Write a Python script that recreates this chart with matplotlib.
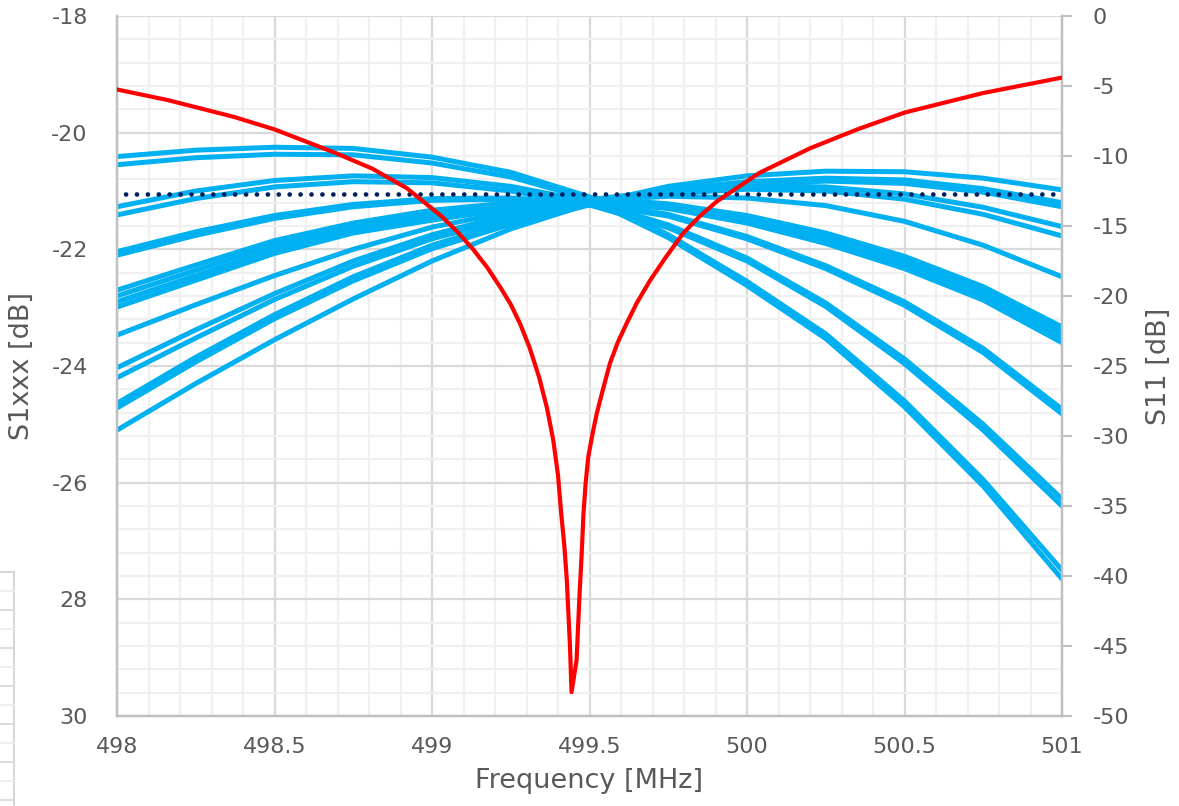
import matplotlib
matplotlib.use("Agg")
import matplotlib.pyplot as plt
from matplotlib.ticker import MultipleLocator, FixedLocator, FixedFormatter
from matplotlib.lines import Line2D

plt.rcParams['font.family'] = ['DejaVu Sans']
plt.rcParams['axes.unicode_minus'] = False

# frequency grid of the S1xxx traces [MHz]
freq = [498.0, 498.25, 498.5, 498.75, 499.0, 499.25, 499.5,
        499.75, 500.0, 500.25, 500.5, 500.75, 501.0]

# S1xxx traces [dB]
s1_traces = [
    [-20.41, -20.30, -20.25, -20.27, -20.42, -20.68, -21.10, -21.75, -22.55, -23.45, -24.60, -25.95, -27.50],
    [-20.55, -20.43, -20.37, -20.38, -20.52, -20.76, -21.14, -21.80, -22.62, -23.53, -24.70, -26.06, -27.65],
    [-21.27, -21.00, -20.82, -20.74, -20.77, -20.92, -21.18, -21.58, -22.15, -22.92, -23.88, -25.00, -26.28],
    [-21.41, -21.13, -20.93, -20.84, -20.86, -21.00, -21.24, -21.63, -22.20, -22.98, -23.96, -25.10, -26.40],
    [-22.04, -21.70, -21.42, -21.23, -21.13, -21.12, -21.20, -21.40, -21.78, -22.28, -22.90, -23.70, -24.74],
    [-22.10, -21.76, -21.47, -21.27, -21.16, -21.14, -21.22, -21.43, -21.82, -22.33, -22.96, -23.77, -24.82],
    [-22.70, -22.27, -21.85, -21.55, -21.33, -21.20, -21.12, -21.22, -21.42, -21.72, -22.12, -22.64, -23.33],
    [-22.80, -22.36, -21.92, -21.61, -21.38, -21.23, -21.14, -21.25, -21.47, -21.78, -22.20, -22.72, -23.42],
    [-22.90, -22.45, -22.00, -21.67, -21.44, -21.27, -21.16, -21.27, -21.51, -21.84, -22.27, -22.80, -23.51],
    [-22.99, -22.53, -22.07, -21.72, -21.50, -21.30, -21.18, -21.30, -21.55, -21.90, -22.33, -22.87, -23.60],
    [-23.47, -22.95, -22.45, -22.00, -21.62, -21.35, -21.17, -21.09, -21.12, -21.25, -21.52, -21.93, -22.47],
    [-24.03, -23.38, -22.76, -22.20, -21.75, -21.40, -21.15, -20.99, -20.91, -20.93, -21.05, -21.28, -21.61],
    [-24.20, -23.52, -22.86, -22.29, -21.82, -21.46, -21.20, -21.04, -20.97, -21.00, -21.14, -21.40, -21.77],
    [-24.64, -23.85, -23.12, -22.47, -21.93, -21.52, -21.20, -20.98, -20.84, -20.78, -20.81, -20.96, -21.20],
    [-24.72, -23.93, -23.19, -22.54, -21.99, -21.57, -21.24, -21.02, -20.89, -20.83, -20.87, -21.02, -21.27],
    [-25.10, -24.30, -23.55, -22.85, -22.20, -21.65, -21.22, -20.92, -20.74, -20.66, -20.67, -20.78, -20.98],
]

# reference level (dotted)
ref_freq = [498.0, 501.0]
ref_level = [-21.05, -21.05]

# S11 [dB]
s11_freq = [498.0, 498.16, 498.37, 498.5, 498.69, 498.81, 498.92, 499.03, 499.08, 499.13,
            499.175, 499.216, 499.25, 499.28, 499.31, 499.34, 499.365, 499.385, 499.40,
            499.41, 499.42, 499.428, 499.438, 499.443, 499.459, 499.468, 499.475, 499.481,
            499.488, 499.496, 499.51, 499.523, 499.54, 499.565, 499.59, 499.618, 499.65,
            499.692, 499.74, 499.798, 499.85, 499.904, 500.04, 500.2, 500.35, 500.5,
            500.75, 501.0]
s11_db = [-5.25, -6.0, -7.2, -8.1, -9.75, -10.9, -12.3, -14.3, -15.4, -16.65,
          -17.95, -19.35, -20.6, -22.0, -23.7, -25.8, -28.0, -30.3, -32.8,
          -35.5, -37.8, -40.3, -45.0, -48.3, -46.0, -41.5, -38.5, -35.5,
          -33.3, -31.5, -29.8, -28.4, -26.9, -24.8, -23.3, -21.95, -20.5,
          -18.9, -17.3, -15.5, -14.3, -13.25, -11.2, -9.45, -8.1, -6.9,
          -5.5, -4.4]

x_ticks = [498, 498.5, 499, 499.5, 500, 500.5, 501]
x_labels = ["498", "498.5", "499", "499.5", "500", "500.5", "501"]
left_ticks = [-18, -20, -22, -24, -26, -28, -30]
left_labels = ["-18", "-20", "-22", "-24", "-26", "28", "30"]
right_ticks = [0, -5, -10, -15, -20, -25, -30, -35, -40, -45, -50]

txt = "#595959"
axis_gray = "#BFBFBF"

fig = plt.figure(figsize=(11.79, 8.06), dpi=100)
ax = fig.add_axes([117 / 1179, 90 / 806, 945 / 1179, 700 / 806])
ax2 = ax.twinx()

for tr in s1_traces:
    ax.plot(freq, tr, color="#00B0F0", lw=3.6, solid_capstyle="round",
            solid_joinstyle="round", zorder=2)
ax.plot(ref_freq, ref_level, color="#002060", lw=3.4, linestyle=(0.5, (0.01, 2.3)),
        dash_capstyle="round", zorder=3)

ax2.plot(s11_freq, s11_db, color="#FF0000", lw=3.0, solid_joinstyle="round", zorder=4)

ax.set_xlim(498, 501)
ax.set_ylim(-30, -18)
ax2.set_ylim(-50, 0)

ax.xaxis.set_major_locator(FixedLocator(x_ticks))
ax.xaxis.set_major_formatter(FixedFormatter(x_labels))
ax.xaxis.set_minor_locator(MultipleLocator(0.1))
ax.yaxis.set_major_locator(FixedLocator(left_ticks))
ax.yaxis.set_major_formatter(FixedFormatter(left_labels))
ax.yaxis.set_minor_locator(MultipleLocator(0.4))
ax2.yaxis.set_major_locator(FixedLocator(right_ticks))

ax.set_axisbelow(True)
ax.grid(which="major", color="#D9D9D9", lw=1.6)
ax.grid(which="minor", color="#F0F0F0", lw=1.6)

ax.tick_params(axis="both", which="minor", length=0)
ax.tick_params(axis="x", which="major", length=0, pad=15, labelsize=16, colors=txt)
ax.tick_params(axis="y", which="major", length=0, pad=21, labelsize=16, colors=txt)
ax2.tick_params(axis="y", which="major", length=7, width=1.5, pad=15, labelsize=16,
                labelcolor=txt, color=axis_gray)

for a in (ax, ax2):
    a.spines["top"].set_visible(False)
    for s in ("left", "right", "bottom"):
        a.spines[s].set_color(axis_gray)
        a.spines[s].set_linewidth(1.6)

ax.set_xlabel("Frequency [MHz]", fontsize=19.5, color=txt, labelpad=8)
ax.set_ylabel("S1xxx [dB]", fontsize=19.5, color=txt, labelpad=12)
ax2.set_ylabel("S11 [dB]", fontsize=19.5, color=txt, labelpad=12)

# leftover spreadsheet cell borders at the lower left edge
fig.add_artist(Line2D([14 / 1179, 14 / 1179], [0, 234 / 806], color="#D0D0D0", lw=1.2))
fig.add_artist(Line2D([0, 14 / 1179], [234 / 806, 234 / 806], color="#D0D0D0", lw=1.2))
for k in range(1, 13):
    yy = (234 - 19 * k) / 806
    fig.add_artist(Line2D([0, 14 / 1179], [yy, yy],
                          color="#D6D6D6" if k % 2 == 0 else "#ECECEC", lw=1.2))

fig.savefig("out.png", dpi=100)
